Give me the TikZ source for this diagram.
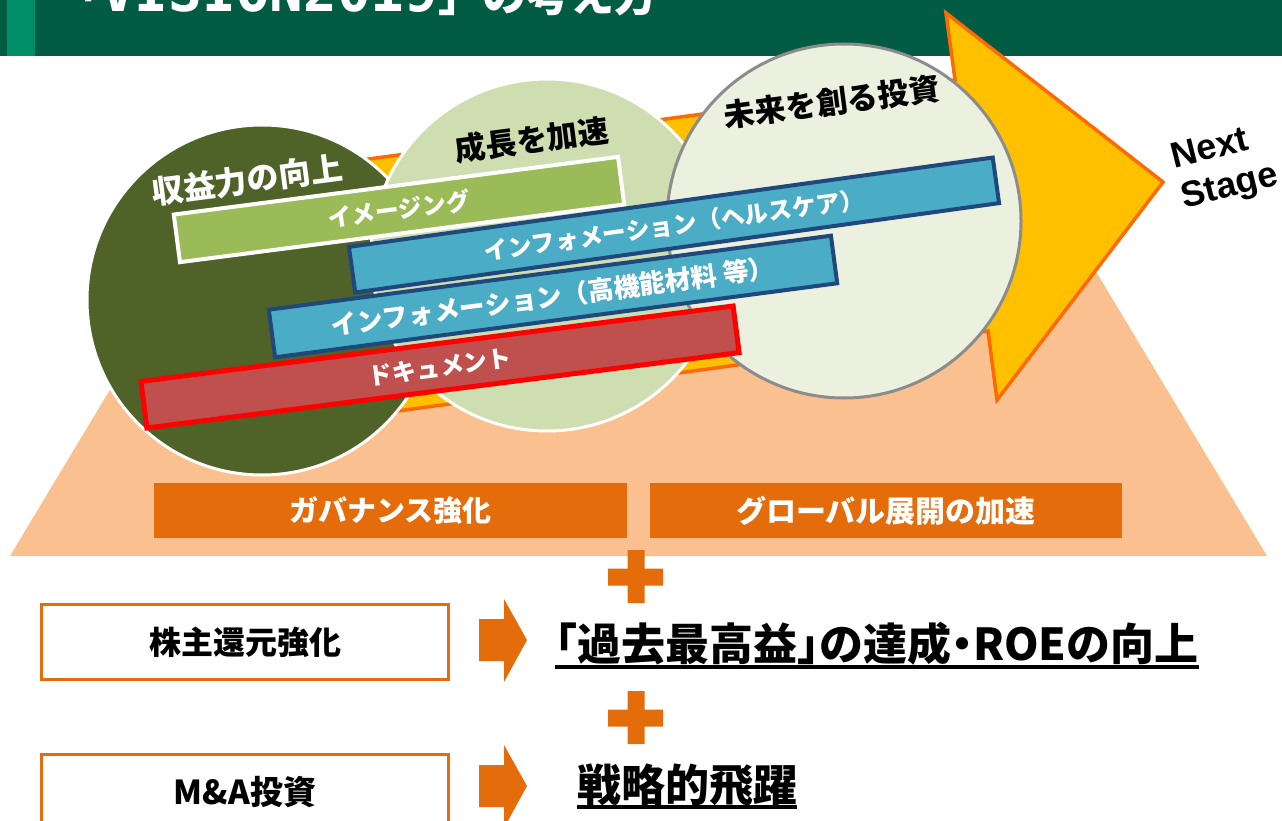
\documentclass[tikz,border=0pt]{standalone}
\usepackage{fontspec}
\setmainfont{Noto Sans CJK JP}
\newfontfamily\jphalt{Noto Sans CJK JP}[RawFeature=+halt]
\newfontfamily\latinb{Liberation Sans}
\newfontfamily\monob{DejaVu Sans Mono}
\definecolor{hdr}{HTML}{025C44}
\definecolor{hdrstripe}{HTML}{008E68}
\definecolor{peach}{HTML}{FAC090}
\definecolor{arrowy}{HTML}{FFC000}
\definecolor{arrowo}{HTML}{FF6A00}
\definecolor{olive}{HTML}{4F6228}
\definecolor{lgreen}{HTML}{CFDEB0}
\definecolor{paleg}{HTML}{EBF1DE}
\definecolor{cgray}{HTML}{8C8C8C}
\definecolor{imgg}{HTML}{9BBB59}
\definecolor{infob}{HTML}{4BACC6}
\definecolor{navy}{HTML}{1F497D}
\definecolor{docr}{HTML}{C0504D}
\definecolor{ora}{HTML}{E46C0A}
\begin{document}
\begin{tikzpicture}[x=1pt,y=-1pt,
  bar/.style={rectangle, inner sep=0, text=white, font=\bfseries\fontsize{24}{24}\selectfont},
  circ/.style={circle, inner sep=0, line width=3},
  clabel/.style={font=\bfseries\fontsize{31}{31}\selectfont, rotate=7.5, inner sep=0},
  obox/.style={rectangle, fill=ora, inner sep=0, minimum width=472, minimum height=55, text=white, font=\bfseries\fontsize{29}{29}\selectfont},
  wbox/.style={rectangle, draw=ora, line width=3, fill=white, minimum width=407, minimum height=75, inner sep=0, font=\bfseries\fontsize{32}{32}\selectfont},
  bigtext/.style={font=\jphalt\bfseries\fontsize{44}{44}\selectfont, inner sep=0, anchor=base west},
  uline/.style={line width=3.5},
]
\useasboundingbox (0,0) rectangle (1282,821);
% header
\fill[hdr] (0,0) rectangle (1282,56);
\fill[hdrstripe] (7,0) rectangle (35,56);
\node[anchor=base west, inner sep=0, text=white, font=\bfseries\fontsize{44}{44}\selectfont] (title) at (57,12)
  {「{\monob\bfseries\fontsize{56}{56}\selectfont VISION2019}」の考え方};
% base trapezoid
\fill[peach] (10,556) -- (1267,556) -- (1053,200) -- (224,200) -- cycle;
% big arrow
\draw[fill=arrowy, draw=arrowo, line width=3.5, line join=miter]
  (250,175) -- (955,80) -- (946,13) -- (1163,182) -- (997,400) -- (988,331) -- (250,431) -- cycle;
% circles
\node[circ, fill=olive, draw=white, minimum size=350] (c1) at (262,300) {};
\node[circ, fill=lgreen, draw=white, minimum size=352] (c2) at (547,255) {};
\node[circ, fill=paleg, draw=cgray, minimum size=354] (c3) at (844,221) {};
\node[clabel, text=white, font=\bfseries\fontsize{32}{32}\selectfont] (l1) at (247,180) {収益力の向上};
\node[clabel] (l2) at (532,140) {成長を加速};
\node[clabel] (l3) at (832,102) {未来を創る投資};
% bars
\node[bar, fill=imgg, draw=white, line width=4, minimum width=448, minimum height=48, rotate=7.4] (bimg) at (399,209.5) {イメージング};
\node[bar, fill=infob, draw=navy, line width=4, minimum width=650, minimum height=46, rotate=7.9] (bhc) at (674,225) {インフォメーション（ヘルスケア）};
\node[bar, fill=infob, draw=navy, line width=4, minimum width=567, minimum height=48, rotate=7.5, font=\bfseries\fontsize{26}{26}\selectfont] (bmat) at (553,296.5) {インフォメーション（高機能材料 等）};
\node[bar, fill=docr, draw=red, line width=5, minimum width=597, minimum height=47, rotate=7.25] (bdoc) at (440,367) {ドキュメント};
% next stage
\node[rotate=14, align=left, inner sep=0, font=\latinb\bfseries\fontsize{36}{41}\selectfont] (next) at (1225,168) {Next\\Stage};
% orange boxes
\node[obox, minimum width=473] (gov) at (390.5,510.5) {ガバナンス強化};
\node[obox, font=\bfseries\fontsize{30}{30}\selectfont] (glob) at (886,510.5) {グローバル展開の加速};
% plus signs
\fill[ora] (627.5,550) rectangle (644.5,603) (608,568.5) rectangle (663,585.5);
\fill[ora] (627.5,691) rectangle (644.5,744) (608,709.5) rectangle (663,726.5);
% bottom boxes
\node[wbox] (sh) at (245,642) {株主還元強化};
\node[wbox, font=\bfseries\fontsize{33}{33}\selectfont] (ma) at (245,792) {M\&A投資};
% block arrows
\fill[ora] (479,619) -- (504,619) -- (504,599) -- (527,640) -- (504,682) -- (504,661) -- (479,661) -- cycle;
\fill[ora] (479,765) -- (504,765) -- (504,745) -- (527,786) -- (504,828) -- (504,807) -- (479,807) -- cycle;
% results
\node[bigtext] (res1) at (555,660) {「過去最高益」の達成・ROEの向上};
\draw[uline] ([yshift=-7pt]res1.base west) -- ([yshift=-7pt]res1.base east);
\node[bigtext] (res2) at (577,801) {戦略的飛躍};
\draw[uline] ([yshift=-6pt]res2.base west) -- ([yshift=-6pt]res2.base east);
\end{tikzpicture}
\end{document}
